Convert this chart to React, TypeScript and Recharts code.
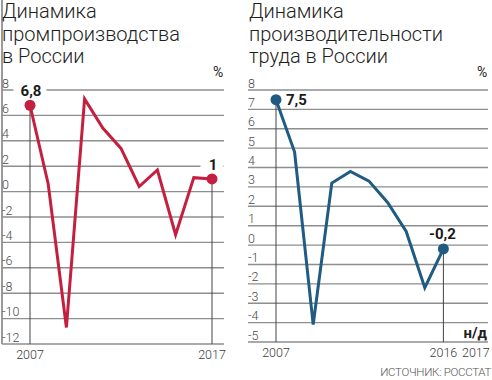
import React from "react"
import { LineChart, Line, XAxis, YAxis, CartesianGrid, ReferenceLine, LabelList } from "recharts"

// промпроизводство, % г/г
const industryYears = [2007, 2008, 2009, 2010, 2011, 2012, 2013, 2014, 2015, 2016, 2017]
const industryValues = [6.8, 0.6, -10.7, 7.3, 5.0, 3.4, 0.4, 1.7, -3.4, 1.1, 1.0]
const industryYTicks = [-12, -10, -8, -6, -4, -2, 0, 2, 4, 6, 8]
const industryXTicks = [2007, 2017]
const industryMarked = [2007, 2017]

// производительность труда, % г/г (2017 — нет данных)
const productivityYears = [2007, 2008, 2009, 2010, 2011, 2012, 2013, 2014, 2015, 2016, 2017]
const productivityValues = [7.5, 4.8, -4.1, 3.2, 3.8, 3.3, 2.2, 0.7, -2.2, -0.2, null]
const productivityYTicks = [-5, -4, -3, -2, -1, 0, 1, 2, 3, 4, 5, 6, 7, 8]
const productivityXTicks = [2007, 2016, 2017]
const productivityMarked = [2007, 2016]
const noDataLabel = "н/д"

const RED = "#c51f40"
const BLUE = "#1f5b82"
const GRID = "#8e8e8e"
const FONT = "Roboto, 'Noto Sans', sans-serif"

const fmt = (v: number) => (Number.isInteger(v) ? String(v) : String(v).replace(".", ","))

const toRows = (years: number[], values: (number | null)[], marked: number[]) =>
  years.map((year, i) => ({
    year,
    value: values[i],
    mark: marked.includes(year) && values[i] != null ? fmt(values[i] as number) : null,
  }))

const industryData = toRows(industryYears, industryValues, industryMarked)
const productivityData = toRows(productivityYears, productivityValues, productivityMarked)

function YTick({ x, y, payload }: any) {
  return (
    <text x={x} y={y - 2.5} textAnchor="start" fontSize={12.5} fill="#4a4a4a" fontFamily={FONT} fontWeight={300}>
      {payload.value}
    </text>
  )
}

function makeXTick(lastYear: number, noData: boolean) {
  return function XTick({ x, y, payload }: any) {
    const last = payload.value === lastYear && noData
    return (
      <g>
        <text
          x={x}
          y={y + 13}
          textAnchor={last ? "start" : "middle"}
          fontSize={12.5}
          fill="#3a3a3a"
          fontFamily={FONT}
          fontWeight={300}
        >
          {payload.value}
        </text>
        {last && (
          <text x={x + 25} y={y - 6} textAnchor="end" fontSize={15} fontWeight={700} fill="#222" fontFamily={FONT}>
            {noDataLabel}
          </text>
        )}
      </g>
    )
  }
}

function makeDot(color: string) {
  return function Dot({ cx, cy, payload, index }: any) {
    if (!payload.mark) return <g key={index} />
    return <circle key={index} cx={cx} cy={cy} r={5.5} fill={color} stroke="none" />
  }
}

function IndustryLabel({ x, y, value }: any) {
  if (!value) return null
  const w = 18 + 5 * String(value).length
  return (
    <g>
      <rect x={x - w / 2} y={y - 23} width={w} height={17} fill="#fff" />
      <text x={x + 1} y={y - 9} textAnchor="middle" fontSize={15} fontWeight={700} fill="#1a1a1a" fontFamily={FONT}>
        {value}
      </text>
    </g>
  )
}

function ProductivityLabel({ x, y, value, index }: any) {
  if (!value) return null
  const first = index === 0
  return (
    <text
      x={first ? x + 10 : x - 1}
      y={first ? y + 5 : y - 10}
      textAnchor={first ? "start" : "middle"}
      fontSize={15}
      fontWeight={700}
      fill="#1a1a1a"
      fontFamily={FONT}
    >
      {value}
    </text>
  )
}

const titleStyle: React.CSSProperties = {
  position: "absolute",
  top: 0,
  fontFamily: FONT,
  fontWeight: 300,
  fontSize: 20,
  lineHeight: "22.5px",
  color: "#1e1e1e",
  whiteSpace: "nowrap",
}

const pctStyle: React.CSSProperties = {
  position: "absolute",
  top: 64,
  fontFamily: FONT,
  fontSize: 14,
  color: "#222",
}

export default function App() {
  return (
    <div style={{ position: "absolute", left: 0, top: 0, width: 492, height: 380, background: "#fff", overflow: "hidden" }}>
      <div style={{ position: "absolute", left: 1, top: 0, width: 1.5, height: 344, background: "#9a9a9a" }} />
      <div style={{ ...titleStyle, left: 2 }}>
        Динамика
        <br />
        промпроизводства
        <br />в России
      </div>
      <div style={{ ...titleStyle, left: 249 }}>
        Динамика
        <br />
        производительности
        <br />
        труда в России
      </div>
      <div style={{ ...pctStyle, left: 213 }}>%</div>
      <div style={{ ...pctStyle, left: 477 }}>%</div>

      <div style={{ position: "absolute", left: 0, top: 0 }}>
        <LineChart width={246} height={380} data={industryData} margin={{ top: 90, right: 22, bottom: 0, left: 2 }}>
          <CartesianGrid vertical={false} stroke={GRID} strokeWidth={1.4} />
          <XAxis
            dataKey="year"
            type="number"
            domain={[industryXTicks[0], industryXTicks[1]]}
            ticks={industryXTicks}
            interval={0}
            padding={{ left: 28, right: 12 }}
            axisLine={false}
            tickLine={false}
            tickSize={0}
            height={36}
            tick={makeXTick(2017, false)}
          />
          <YAxis
            domain={[industryYTicks[0], industryYTicks[industryYTicks.length - 1]]}
            ticks={industryYTicks}
            interval={0}
            mirror
            width={30}
            axisLine={false}
            tickLine={false}
            tickSize={0}
            tickMargin={0}
            tick={YTick}
          />
          {industryMarked.map((yr) => (
            <ReferenceLine
              key={yr}
              segment={[
                { x: yr, y: industryValues[industryYears.indexOf(yr)] as number },
                { x: yr, y: industryYTicks[0] },
              ]}
              stroke="#444"
              strokeWidth={1}
            />
          ))}
          <Line
            dataKey="value"
            type="linear"
            stroke={RED}
            strokeWidth={3}
            dot={makeDot(RED)}
            activeDot={false}
            isAnimationActive={false}
          >
            <LabelList dataKey="mark" content={IndustryLabel} />
          </Line>
        </LineChart>
      </div>

      <div style={{ position: "absolute", left: 246, top: 0 }}>
        <LineChart width={246} height={380} data={productivityData} margin={{ top: 90, right: 4, bottom: 0, left: 2 }}>
          <CartesianGrid vertical={false} stroke={GRID} strokeWidth={1.4} />
          <XAxis
            dataKey="year"
            type="number"
            domain={[productivityYears[0], productivityYears[productivityYears.length - 1]]}
            ticks={productivityXTicks}
            interval={0}
            padding={{ left: 28, right: 26 }}
            axisLine={false}
            tickLine={false}
            tickSize={0}
            height={38}
            tick={makeXTick(2017, true)}
          />
          <YAxis
            domain={[productivityYTicks[0], productivityYTicks[productivityYTicks.length - 1]]}
            ticks={productivityYTicks}
            interval={0}
            mirror
            width={30}
            axisLine={false}
            tickLine={false}
            tickSize={0}
            tickMargin={0}
            tick={YTick}
          />
          {productivityMarked.map((yr) => (
            <ReferenceLine
              key={yr}
              segment={[
                { x: yr, y: productivityValues[productivityYears.indexOf(yr)] as number },
                { x: yr, y: productivityYTicks[0] },
              ]}
              stroke="#444"
              strokeWidth={1}
            />
          ))}
          <Line
            dataKey="value"
            type="linear"
            stroke={BLUE}
            strokeWidth={3}
            dot={makeDot(BLUE)}
            activeDot={false}
            connectNulls={false}
            isAnimationActive={false}
          >
            <LabelList dataKey="mark" content={ProductivityLabel} />
          </Line>
        </LineChart>
      </div>

      <div
        style={{
          position: "absolute",
          right: 1,
          top: 365,
          fontFamily: FONT,
          fontWeight: 300,
          fontSize: 11.5,
          color: "#555",
          letterSpacing: -0.3,
        }}
      >
        ИСТОЧНИК: РОССТАТ
      </div>
    </div>
  )
}
